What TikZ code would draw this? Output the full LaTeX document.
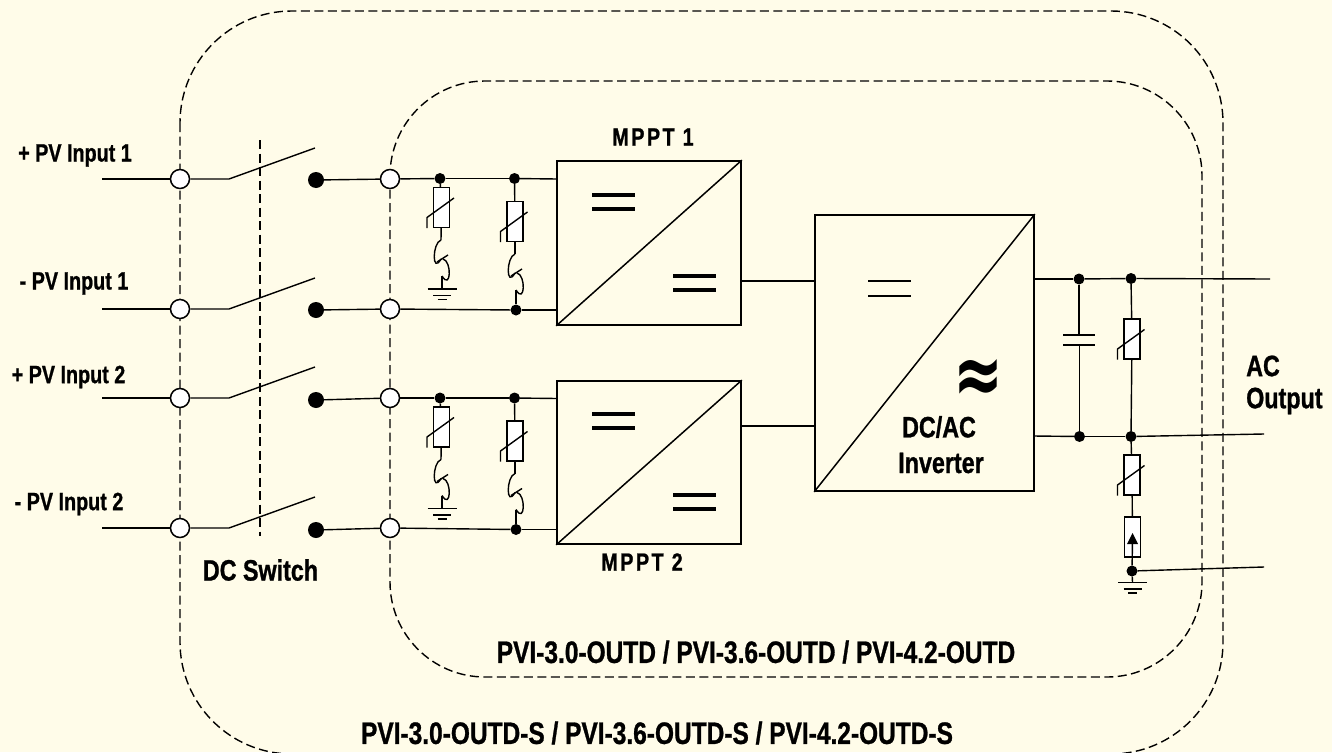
\documentclass[tikz,border=0pt]{standalone}
\usepackage{fontspec}
\usepackage{graphicx}
\setmainfont{Liberation Sans}[FakeStretch=0.79,FakeBold=0.9]
\newfontfamily\approxfont{DejaVu Sans}
\definecolor{paper}{HTML}{FFFCE9}
\tikzset{
  wire/.style={line width=1.4pt,black},
  bound/.style={line width=1.4pt,black,dash pattern=on 9pt off 4.5pt},
  boxed/.style={draw,line width=1.7pt,inner sep=0pt},
  term/.style={circle,draw,fill=white,line width=1.5pt,minimum size=19pt,inner sep=0pt},
  jdot/.style={circle,fill=black,minimum size=11pt,inner sep=0pt},
  bigdot/.style={circle,fill=black,minimum size=16pt,inner sep=0pt},
  resist/.style={rectangle,draw,fill=white,line width=1.4pt,minimum width=16pt,minimum height=40pt,inner sep=0pt},
  lab/.style={font=\bfseries\fontsize{25}{28}\selectfont,inner sep=0pt},
  midlab/.style={font=\bfseries\fontsize{29.5}{34}\selectfont,inner sep=0pt},
  biglab/.style={font=\bfseries\fontsize{31}{34}\selectfont,inner sep=0pt},
  bar/.style={line width=#1,black},
}
\newcommand{\varslash}[1]{\draw[wire] ([shift={(-14.5,20.5)}]#1.center) -- ++(0,-10.5) -- ++(27,-19.5);}
\newcommand{\surge}[3]{%
  \coordinate (#1in) at (#2,#3);
  \coordinate (#1out) at (#2+1,#3+36);
  \draw[wire] (#1in) .. controls +(-9,3) and +(-9,16) .. +(0,19);
  \draw[wire] (#2+2,#3+19) .. controls +(9,2) and +(9,15) .. (#1out);
  \draw[wire] (#2-4,#3+22) -- (#2+7,#3+15);
}
\newcommand{\earth}[3]{%
  \coordinate (#1) at (#2,#3);
  \draw[line width=1.6pt] (#2-14.5,#3) -- (#2+14.5,#3);
  \draw[line width=1.6pt] (#2-9,#3+6.5) -- (#2+9,#3+6.5);
  \draw[line width=1.6pt] (#2-4.5,#3+10.5) -- (#2+4.5,#3+10.5);
}
\begin{document}
\begin{tikzpicture}[x=1pt,y=-1pt]
\fill[paper] (0,0) rectangle (1332,752);
\useasboundingbox (0,0) rectangle (1332,752);
\clip (0,0) rectangle (1332,752);
% boundaries
\draw[bound,rounded corners=112pt] (180,11) rectangle (1223,754);
\draw[bound,rounded corners=95pt] (390,81) rectangle (1202,677);
\coordinate (swtop) at (260,140);
\coordinate (swbot) at (260,536);
\draw[bound] (swtop) -- (swbot);
% converter boxes
\node[boxed,minimum width=184pt,minimum height=164pt] (m1) at (649,243) {};
\node[boxed,minimum width=184pt,minimum height=163pt] (m2) at (649,462.5) {};
\node[boxed,minimum width=219pt,minimum height=276pt] (inv) at (924.5,353) {};
\draw[line width=1.5pt] (m1.south west) -- (m1.north east);
\draw[line width=1.5pt] (m2.south west) -- (m2.north east);
\draw[line width=1.5pt] (inv.south west) -- (inv.north east);
% input rows
\foreach \n/\y/\d in {1/179/180,2/309/310,3/398/400,4/528/530}{
  \coordinate (lead\n) at (102,\y);
  \coordinate (piv\n) at (229,\y);
  \coordinate (tip\n) at (315,\y-31);
  \node[term] (ta\n) at (180,\y) {};
  \node[term] (tb\n) at (390,\y) {};
  \node[bigdot] (sw\n) at (316,\d) {};
  \draw[wire] (lead\n) -- (ta\n);
  \draw[wire] (ta\n) -- (piv\n) -- (tip\n);
  \draw[wire] (sw\n) -- (tb\n);
}
% protection networks
\foreach \k/\dy/\ra/\rb/\ba/\bb in {a/0/1/2/m1/m1,b/219.5/3/4/m2/m2}{
  \node[jdot] (j1\k) at (440,178.5+\dy) {};
  \node[jdot] (j2\k) at (514.5,178.5+\dy) {};
  \node[jdot] (j3\k) at (516,310+\dy) {};
  \coordinate (in1\k) at (557,179+\dy);
  \coordinate (in2\k) at (557,310+\dy);
  \draw[wire] (tb\ra) -- (j1\k);
  \draw[wire] (j1\k) -- (j2\k);
  \draw[wire] (j2\k) -- (in1\k);
  \draw[wire] (tb\rb) -- (j3\k);
  \draw[wire] (j3\k) -- (in2\k);
  \node[resist] (va\k) at (441.5,207.5+\dy) {};
  \node[resist] (vb\k) at (515,221.5+\dy) {};
  \varslash{va\k}
  \varslash{vb\k}
  \surge{la\k}{441}{240+\dy}
  \surge{lb\k}{515}{254+\dy}
  \earth{ga\k}{442}{289+\dy}
  \draw[wire] (j1\k) -- (va\k);
  \draw[wire] (j2\k) -- (vb\k);
  \draw[wire] (va\k) -- (la\k in);
  \draw[wire] (vb\k) -- (lb\k in);
  \draw[wire] (la\k out) -- (ga\k);
  \draw[wire] (lb\k out) -- (j3\k);
}
% equals signs
\foreach \xa/\ya in {592/195,592/209,673/276,673/290,592/414,592/428,673/495,673/509}{
  \draw[bar=4pt] (\xa,\ya) -- (\xa+43,\ya);
}
\draw[bar=2.6pt] (868,281) -- (911,281);
\draw[bar=2.6pt] (868,296) -- (911,296);
\node[inner sep=0pt] (acsym) at (978,381) {\resizebox{50pt}{44pt}{\approxfont\bfseries ≈}};
% links between converters
\coordinate (m1o) at (741,281);
\coordinate (i1) at (815,281);
\coordinate (m2o) at (741,426);
\coordinate (i2) at (815,426);
\draw[wire] (m1o) -- (i1);
\draw[wire] (m2o) -- (i2);
% AC side
\coordinate (ao1) at (1034,279);
\coordinate (ao2) at (1033,436);
\coordinate (end1) at (1270,279);
\coordinate (end2) at (1264,434);
\coordinate (end3) at (1264,567);
\node[jdot] (ja) at (1079,279) {};
\node[jdot] (jb) at (1131,278.5) {};
\node[jdot] (jc) at (1079.5,436.5) {};
\node[jdot] (jd) at (1131,436.5) {};
\node[jdot] (je) at (1132,571) {};
\draw[wire] (ao1) -- (ja);
\draw[wire] (ja) -- (jb);
\draw[wire] (jb) -- (end1);
\draw[wire] (ao2) -- (jc);
\draw[wire] (jc) -- (jd);
\draw[wire] (jd) -- (end2);
\draw[wire] (je) -- (end3);
% capacitor
\coordinate (cp1) at (1079,335);
\coordinate (cp2) at (1079.5,345);
\draw[wire] (ja) -- (cp1);
\draw[wire] (cp2) -- (jc);
\draw[wire] (1063,335) -- (1095,335);
\draw[wire] (1063,345) -- (1095,345);
% right varistors
\node[resist] (vc) at (1132,339) {};
\node[resist] (vd) at (1132,475) {};
\node[resist] (fu) at (1132.5,537) {};
\varslash{vc}
\varslash{vd}
\draw[wire] (jb) -- (vc);
\draw[wire] (vc) -- (jd);
\draw[wire] (jd) -- (vd);
\draw[wire] (vd) -- (fu);
\draw[wire] (je) -- (1132.5,540);
\fill (1132.5,533) -- (1138,544) -- (1127,544) -- cycle;
\earth{gr}{1132.5}{582.5}
\draw[wire] (je) -- (gr);
% labels
\node[lab] (l1) at (75,155.5) {+ PV Input 1};
\node[lab] (l2) at (74,283.5) {- PV Input 1};
\node[lab] (l3) at (68.5,377) {+ PV Input 2};
\node[lab] (l4) at (69,504) {- PV Input 2};
\node[lab] (mp1) at (653,137) {\addfontfeature{LetterSpace=10}MPPT 1};
\node[lab] (mp2) at (642,562) {\addfontfeature{LetterSpace=10}MPPT 2};
\node[midlab] (dcs) at (260.5,570) {DC Switch};
\node[midlab] (t1) at (939,427) {DC/AC};
\node[midlab] (t2) at (941,463) {Inverter};
\node[midlab,anchor=west] (ac1) at (1246,366) {AC};
\node[midlab,anchor=west] (ac2) at (1246,401) {Output};
\node[biglab] (pa) at (756,652) {PVI-3.0-OUTD / PVI-3.6-OUTD / PVI-4.2-OUTD};
\node[biglab] (pb) at (657,733) {PVI-3.0-OUTD-S / PVI-3.6-OUTD-S / PVI-4.2-OUTD-S};
\end{tikzpicture}
\end{document}
